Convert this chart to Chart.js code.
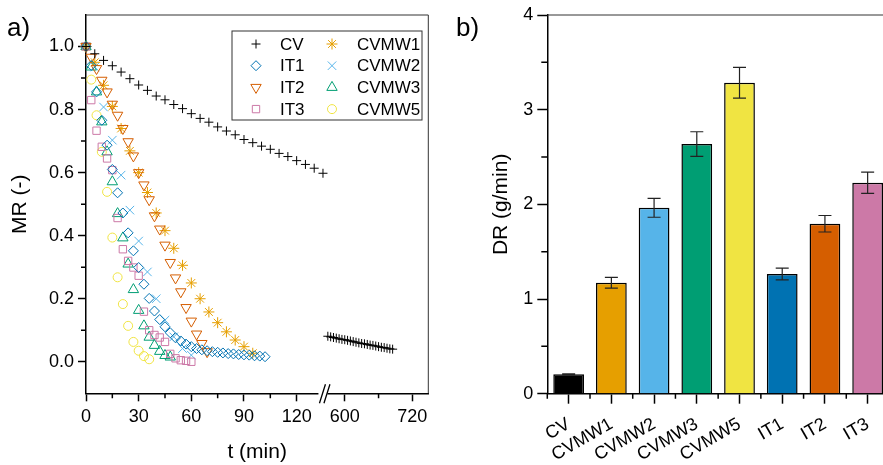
<!DOCTYPE html>
<html>
<head>
<meta charset="utf-8">
<script src="https://cdn.jsdelivr.net/npm/chart.js@4.4.1/dist/chart.umd.min.js"></script>
<style>
  html, body { margin: 0; padding: 0; background: #fff; overflow: hidden; }
  #wrap { position: relative; width: 883px; height: 465px; overflow: hidden; }
  #boxA { position: absolute; left: 0; top: 0; }
  #boxB { position: absolute; left: 440px; top: 0; }
</style>
</head>
<body>
<div id="wrap">
  <div id="boxA"><canvas id="chartA" width="440" height="465"></canvas></div>
  <div id="boxB"><canvas id="chartB" width="450" height="465"></canvas></div>
</div>
<script>
// ---- a) moisture ratio vs drying time ----
const cvTime = [0, 5, 10, 15, 20, 25, 30, 35, 40, 45, 50, 55, 60, 65, 70, 75, 80, 85, 90, 95, 100, 105, 110, 115, 120, 125, 130, 135];
const cvMR = [1.0, 0.977, 0.956, 0.939, 0.919, 0.898, 0.878, 0.861, 0.843, 0.831, 0.816, 0.803, 0.787, 0.772, 0.760, 0.745, 0.732, 0.720, 0.705, 0.695, 0.684, 0.674, 0.661, 0.651, 0.638, 0.626, 0.614, 0.598];
const cvTimeLate = [570, 575, 580, 585, 590, 595, 600, 605, 610, 615, 620, 625, 630, 635, 640, 645, 650, 655, 660, 665, 670, 675, 680, 685];
const cvMRLate = [0.081, 0.079, 0.077, 0.075, 0.073, 0.071, 0.070, 0.068, 0.066, 0.064, 0.062, 0.060, 0.058, 0.057, 0.055, 0.053, 0.052, 0.050, 0.048, 0.046, 0.045, 0.043, 0.041, 0.040];

const it1Time = [0, 3, 6, 9, 12, 15, 18, 21, 24, 27, 30, 33, 36, 39, 42, 45, 48, 51, 54, 57, 60, 63, 66, 69, 72, 75, 78, 81, 84, 87, 90, 93, 96, 99, 102];
const it1MR = [1.0, 0.94, 0.856, 0.766, 0.687, 0.61, 0.536, 0.472, 0.409, 0.352, 0.299, 0.246, 0.201, 0.161, 0.134, 0.111, 0.092, 0.076, 0.066, 0.056, 0.048, 0.042, 0.038, 0.035, 0.032, 0.030, 0.028, 0.026, 0.025, 0.023, 0.022, 0.021, 0.019, 0.018, 0.016];

const it2Time = [0, 3, 6, 9, 12, 15, 18, 21, 24, 27, 30, 33, 36, 39, 42, 45, 48, 51, 54, 57, 60, 63, 66, 69];
const it2MR = [1.0, 0.966, 0.93, 0.893, 0.856, 0.817, 0.782, 0.74, 0.698, 0.653, 0.6, 0.561, 0.514, 0.463, 0.421, 0.37, 0.315, 0.266, 0.222, 0.172, 0.129, 0.088, 0.058, 0.032];

const it3Time = [0, 3, 6, 9, 12, 15, 18, 21, 24, 27, 30, 33, 36, 39, 42, 45, 48, 51, 54, 57, 60];
const it3MR = [1.0, 0.83, 0.733, 0.682, 0.645, 0.608, 0.456, 0.357, 0.32, 0.299, 0.273, 0.159, 0.1, 0.085, 0.077, 0.063, 0.025, 0.011, 0.005, 0.003, 0.0];

const cvmw1Time = [0, 5, 10, 15, 20, 25, 30, 35, 40, 45, 50, 55, 60, 65, 70, 75, 80, 85, 90, 95];
const cvmw1MR = [1.0, 0.95, 0.877, 0.81, 0.74, 0.669, 0.6, 0.537, 0.472, 0.416, 0.36, 0.306, 0.25, 0.2, 0.158, 0.124, 0.095, 0.069, 0.048, 0.027];

const cvmw2Time = [0, 5, 10, 15, 20, 25, 30, 35, 40, 45, 50, 55, 60];
const cvmw2MR = [1.0, 0.935, 0.808, 0.703, 0.592, 0.481, 0.383, 0.285, 0.2, 0.132, 0.079, 0.042, 0.021];

const cvmw3Time = [0, 3, 6, 9, 12, 15, 18, 21, 24, 27, 30, 33, 36, 39, 42, 45, 48];
const cvmw3MR = [1.0, 0.935, 0.856, 0.761, 0.666, 0.571, 0.47, 0.393, 0.31, 0.229, 0.163, 0.114, 0.078, 0.052, 0.033, 0.02, 0.015];

const cvmw5Time = [0, 3, 6, 9, 12, 15, 18, 21, 24, 27, 30, 33, 36];
const cvmw5MR = [1.0, 0.895, 0.782, 0.666, 0.539, 0.394, 0.268, 0.183, 0.114, 0.063, 0.035, 0.018, 0.008];

const timeTicks = [0, 30, 60, 90, 120, 600, 720];
const timeMinorTicks = [15, 45, 75, 105, 660];
const mrTicks = [0, 0.2, 0.4, 0.6, 0.8, 1.0];
const mrMinorTicks = [0.1, 0.3, 0.5, 0.7, 0.9];

// ---- b) drying rate ----
const drCategories = ['CV', 'CVMW1', 'CVMW2', 'CVMW3', 'CVMW5', 'IT1', 'IT2', 'IT3'];
const drValues = [0.205, 1.172, 1.964, 2.637, 3.284, 1.264, 1.795, 2.228];
const drErrors = [0.005, 0.056, 0.1, 0.13, 0.162, 0.062, 0.087, 0.113];
const drColors = ['#000000', '#E69F00', '#56B4E9', '#009E73', '#F0E442', '#0072B2', '#D55E00', '#CC79A7'];
const drMinorTicks = [0.5, 1.5, 2.5, 3.5];

Chart.defaults.font.family = '"Liberation Sans", Arial, sans-serif';
Chart.defaults.color = '#000';

// broken time axis: 0..~133 min on the left part, 565..750 min squeezed into the right part
const BREAK_U = 134.7;
function tAxis(t) { return t < 300 ? t : 147.4 + (t - 600) * 0.321; }
function tLabel(u) { return u < BREAK_U ? Math.round(u) : Math.round(600 + (u - 147.4) / 0.321); }
function pts(ts, ys) { return ts.map((t, i) => ({ x: tAxis(t), y: ys[i] })); }

const series = [
  { label: 'CV',    data: pts(cvTime.concat(cvTimeLate), cvMR.concat(cvMRLate)), style: 'cross', rot: 0, r: 4.5, color: '#000000' },
  { label: 'IT1',   data: pts(it1Time, it1MR),     style: 'rectRot',  rot: 0,   r: 5,   color: '#0072B2' },
  { label: 'IT2',   data: pts(it2Time, it2MR),     style: 'triangle', rot: 180, r: 6,   color: '#D55E00' },
  { label: 'IT3',   data: pts(it3Time, it3MR),     style: 'rect',     rot: 0,   r: 5.2, color: '#CC79A7' },
  { label: 'CVMW1', data: pts(cvmw1Time, cvmw1MR), style: 'star',     rot: 0,   r: 5.5, color: '#E69F00' },
  { label: 'CVMW2', data: pts(cvmw2Time, cvmw2MR), style: 'crossRot', rot: 0,   r: 6,   color: '#56B4E9' },
  { label: 'CVMW3', data: pts(cvmw3Time, cvmw3MR), style: 'triangle', rot: 0,   r: 6,   color: '#009E73' },
  { label: 'CVMW5', data: pts(cvmw5Time, cvmw5MR), style: 'circle',   rot: 0,   r: 4.5, color: '#F0E442' }
];

const tickFont = { size: 18 };
const titleFont = { size: 21 };

function drawMarker(ctx, s, x, y) {
  ctx.strokeStyle = s.color;
  ctx.fillStyle = 'rgba(0,0,0,0)';
  ctx.lineWidth = 1;
  Chart.helpers.drawPoint(ctx, { pointStyle: s.style, rotation: s.rot, radius: s.r, borderWidth: 1 }, x, y);
}

const extrasA = {
  id: 'extrasA',
  afterDraw(chart) {
    const { ctx, chartArea: a, scales } = chart;
    ctx.save();
    // frame top / right
    ctx.strokeStyle = '#333';
    ctx.lineWidth = 1;
    ctx.beginPath();
    ctx.moveTo(a.left, a.top);
    ctx.lineTo(a.right, a.top);
    ctx.lineTo(a.right, a.bottom);
    ctx.stroke();
    // minor ticks
    ctx.strokeStyle = '#000';
    ctx.lineWidth = 1.5;
    ctx.beginPath();
    timeMinorTicks.forEach(t => {
      const px = scales.x.getPixelForValue(tAxis(t));
      ctx.moveTo(px, a.bottom); ctx.lineTo(px, a.bottom + 5);
    });
    mrMinorTicks.forEach(v => {
      const py = scales.y.getPixelForValue(v);
      ctx.moveTo(a.left, py); ctx.lineTo(a.left - 5, py);
    });
    ctx.stroke();
    // axis break
    const p = scales.x.getPixelForValue(BREAK_U);
    ctx.fillStyle = '#fff';
    ctx.fillRect(p - 4, a.bottom - 2, 9, 4);
    ctx.strokeStyle = '#000';
    ctx.lineWidth = 1.3;
    ctx.beginPath();
    ctx.moveTo(p - 3, a.bottom + 10); ctx.lineTo(p + 3, a.bottom - 9);
    ctx.moveTo(p + 1.5, a.bottom + 10); ctx.lineTo(p + 7.5, a.bottom - 9);
    ctx.stroke();
    // legend
    ctx.strokeStyle = '#333';
    ctx.lineWidth = 1;
    ctx.strokeRect(232, 31, 190, 89);
    ctx.font = '17px "Liberation Sans", Arial, sans-serif';
    ctx.textBaseline = 'middle';
    series.forEach((s, i) => {
      const col = Math.floor(i / 4), row = i % 4;
      const y = 44 + row * 21.7;
      const mx = col ? 332 : 256;
      drawMarker(ctx, s, mx, y);
      ctx.fillStyle = '#000';
      ctx.fillText(s.label, col ? 357 : 280, y + 1);
    });
    // panel letter
    ctx.font = '26px "Liberation Sans", Arial, sans-serif';
    ctx.textBaseline = 'alphabetic';
    ctx.fillStyle = '#000';
    ctx.fillText('a)', 7, 36);
    ctx.restore();
  }
};

new Chart(document.getElementById('chartA'), {
  type: 'scatter',
  data: {
    datasets: series.map(s => ({
      label: s.label,
      data: s.data,
      pointStyle: s.style,
      rotation: s.rot,
      pointRadius: s.r,
      borderColor: s.color,
      backgroundColor: 'rgba(0,0,0,0)',
      borderWidth: 1,
      showLine: false,
      clip: false
    }))
  },
  options: {
    responsive: false,
    animation: false,
    layout: { padding: { top: 15, right: 11.7, left: 0, bottom: 0 } },
    plugins: { legend: { display: false }, tooltip: { enabled: false } },
    scales: {
      x: {
        type: 'linear',
        min: 0,
        max: 195,
        afterFit: s => { s.height = 71.7; },
        afterBuildTicks: s => { s.ticks = timeTicks.map(t => ({ value: tAxis(t) })); },
        ticks: { callback: v => tLabel(v), font: tickFont, padding: 5, autoSkip: false, maxRotation: 0 },
        grid: { drawOnChartArea: false, tickLength: 8, tickColor: '#000', tickWidth: 1.5 },
        border: { color: '#000', width: 1.5 },
        title: { display: true, text: 't (min)', font: titleFont, padding: { top: 0, bottom: 0 } }
      },
      y: {
        min: -0.1,
        max: 1.1,
        afterFit: s => { s.width = 86; },
        afterBuildTicks: s => { s.ticks = mrTicks.map(v => ({ value: v })); },
        ticks: { callback: v => v.toFixed(1), font: tickFont, padding: 4 },
        grid: { drawOnChartArea: false, tickLength: 8, tickColor: '#000', tickWidth: 1.5 },
        border: { color: '#000', width: 1.5 },
        title: { display: true, text: 'MR (-)', font: titleFont, padding: { top: 8, bottom: 0 } }
      }
    }
  },
  plugins: [extrasA]
});

const extrasB = {
  id: 'extrasB',
  afterDatasetsDraw(chart) {
    const { ctx, scales } = chart;
    const meta = chart.getDatasetMeta(0);
    ctx.save();
    ctx.strokeStyle = '#222';
    ctx.lineWidth = 1.2;
    ctx.beginPath();
    meta.data.forEach((bar, i) => {
      const yt = scales.y.getPixelForValue(drValues[i] + drErrors[i]);
      const yb = scales.y.getPixelForValue(drValues[i] - drErrors[i]);
      ctx.moveTo(bar.x, yt); ctx.lineTo(bar.x, yb);
      ctx.moveTo(bar.x - 6.5, yt); ctx.lineTo(bar.x + 6.5, yt);
      ctx.moveTo(bar.x - 6.5, yb); ctx.lineTo(bar.x + 6.5, yb);
    });
    ctx.stroke();
    ctx.restore();
  },
  afterDraw(chart) {
    const { ctx, chartArea: a, scales } = chart;
    ctx.save();
    ctx.strokeStyle = '#333';
    ctx.lineWidth = 1;
    ctx.beginPath();
    ctx.moveTo(a.left, a.top); ctx.lineTo(a.right, a.top); ctx.lineTo(a.right, a.bottom);
    ctx.stroke();
    ctx.strokeStyle = '#000';
    ctx.lineWidth = 1.5;
    ctx.beginPath();
    drMinorTicks.forEach(v => {
      const py = scales.y.getPixelForValue(v);
      ctx.moveTo(a.left, py); ctx.lineTo(a.left - 6, py);
    });
    const step = (a.right - a.left) / drCategories.length;
    for (let i = 0; i <= drCategories.length; i++) {
      const px = a.left + i * step;
      ctx.moveTo(px, a.bottom); ctx.lineTo(px, a.bottom + 5);
    }
    ctx.stroke();
    ctx.font = '26px "Liberation Sans", Arial, sans-serif';
    ctx.fillStyle = '#000';
    ctx.fillText('b)', 16, 36);
    ctx.restore();
  }
};

new Chart(document.getElementById('chartB'), {
  type: 'bar',
  data: {
    labels: drCategories,
    datasets: [{
      data: drValues,
      backgroundColor: drColors,
      borderColor: '#000',
      borderWidth: 1.5,
      barPercentage: 0.72,
      categoryPercentage: 1
    }]
  },
  options: {
    responsive: false,
    animation: false,
    layout: { padding: { top: 15, right: 1, left: 0, bottom: 0 } },
    plugins: { legend: { display: false }, tooltip: { enabled: false } },
    scales: {
      x: {
        afterFit: s => { s.height = 71.3; },
        ticks: { font: tickFont, minRotation: 30, maxRotation: 30, autoSkip: false, padding: 10 },
        grid: { drawOnChartArea: false, offset: false, tickLength: 10, tickColor: '#000', tickWidth: 1.5 },
        border: { color: '#000', width: 1.5 }
      },
      y: {
        min: 0,
        max: 4,
        afterFit: s => { s.width = 107.3; },
        ticks: { stepSize: 1, font: tickFont, padding: 4 },
        grid: { drawOnChartArea: false, tickLength: 10, tickColor: '#000', tickWidth: 1.5 },
        border: { color: '#000', width: 1.5 },
        title: { display: true, text: 'DR (g/min)', font: titleFont, padding: { top: 49, bottom: 0 } }
      }
    }
  },
  plugins: [extrasB]
});
</script>
</body>
</html>
